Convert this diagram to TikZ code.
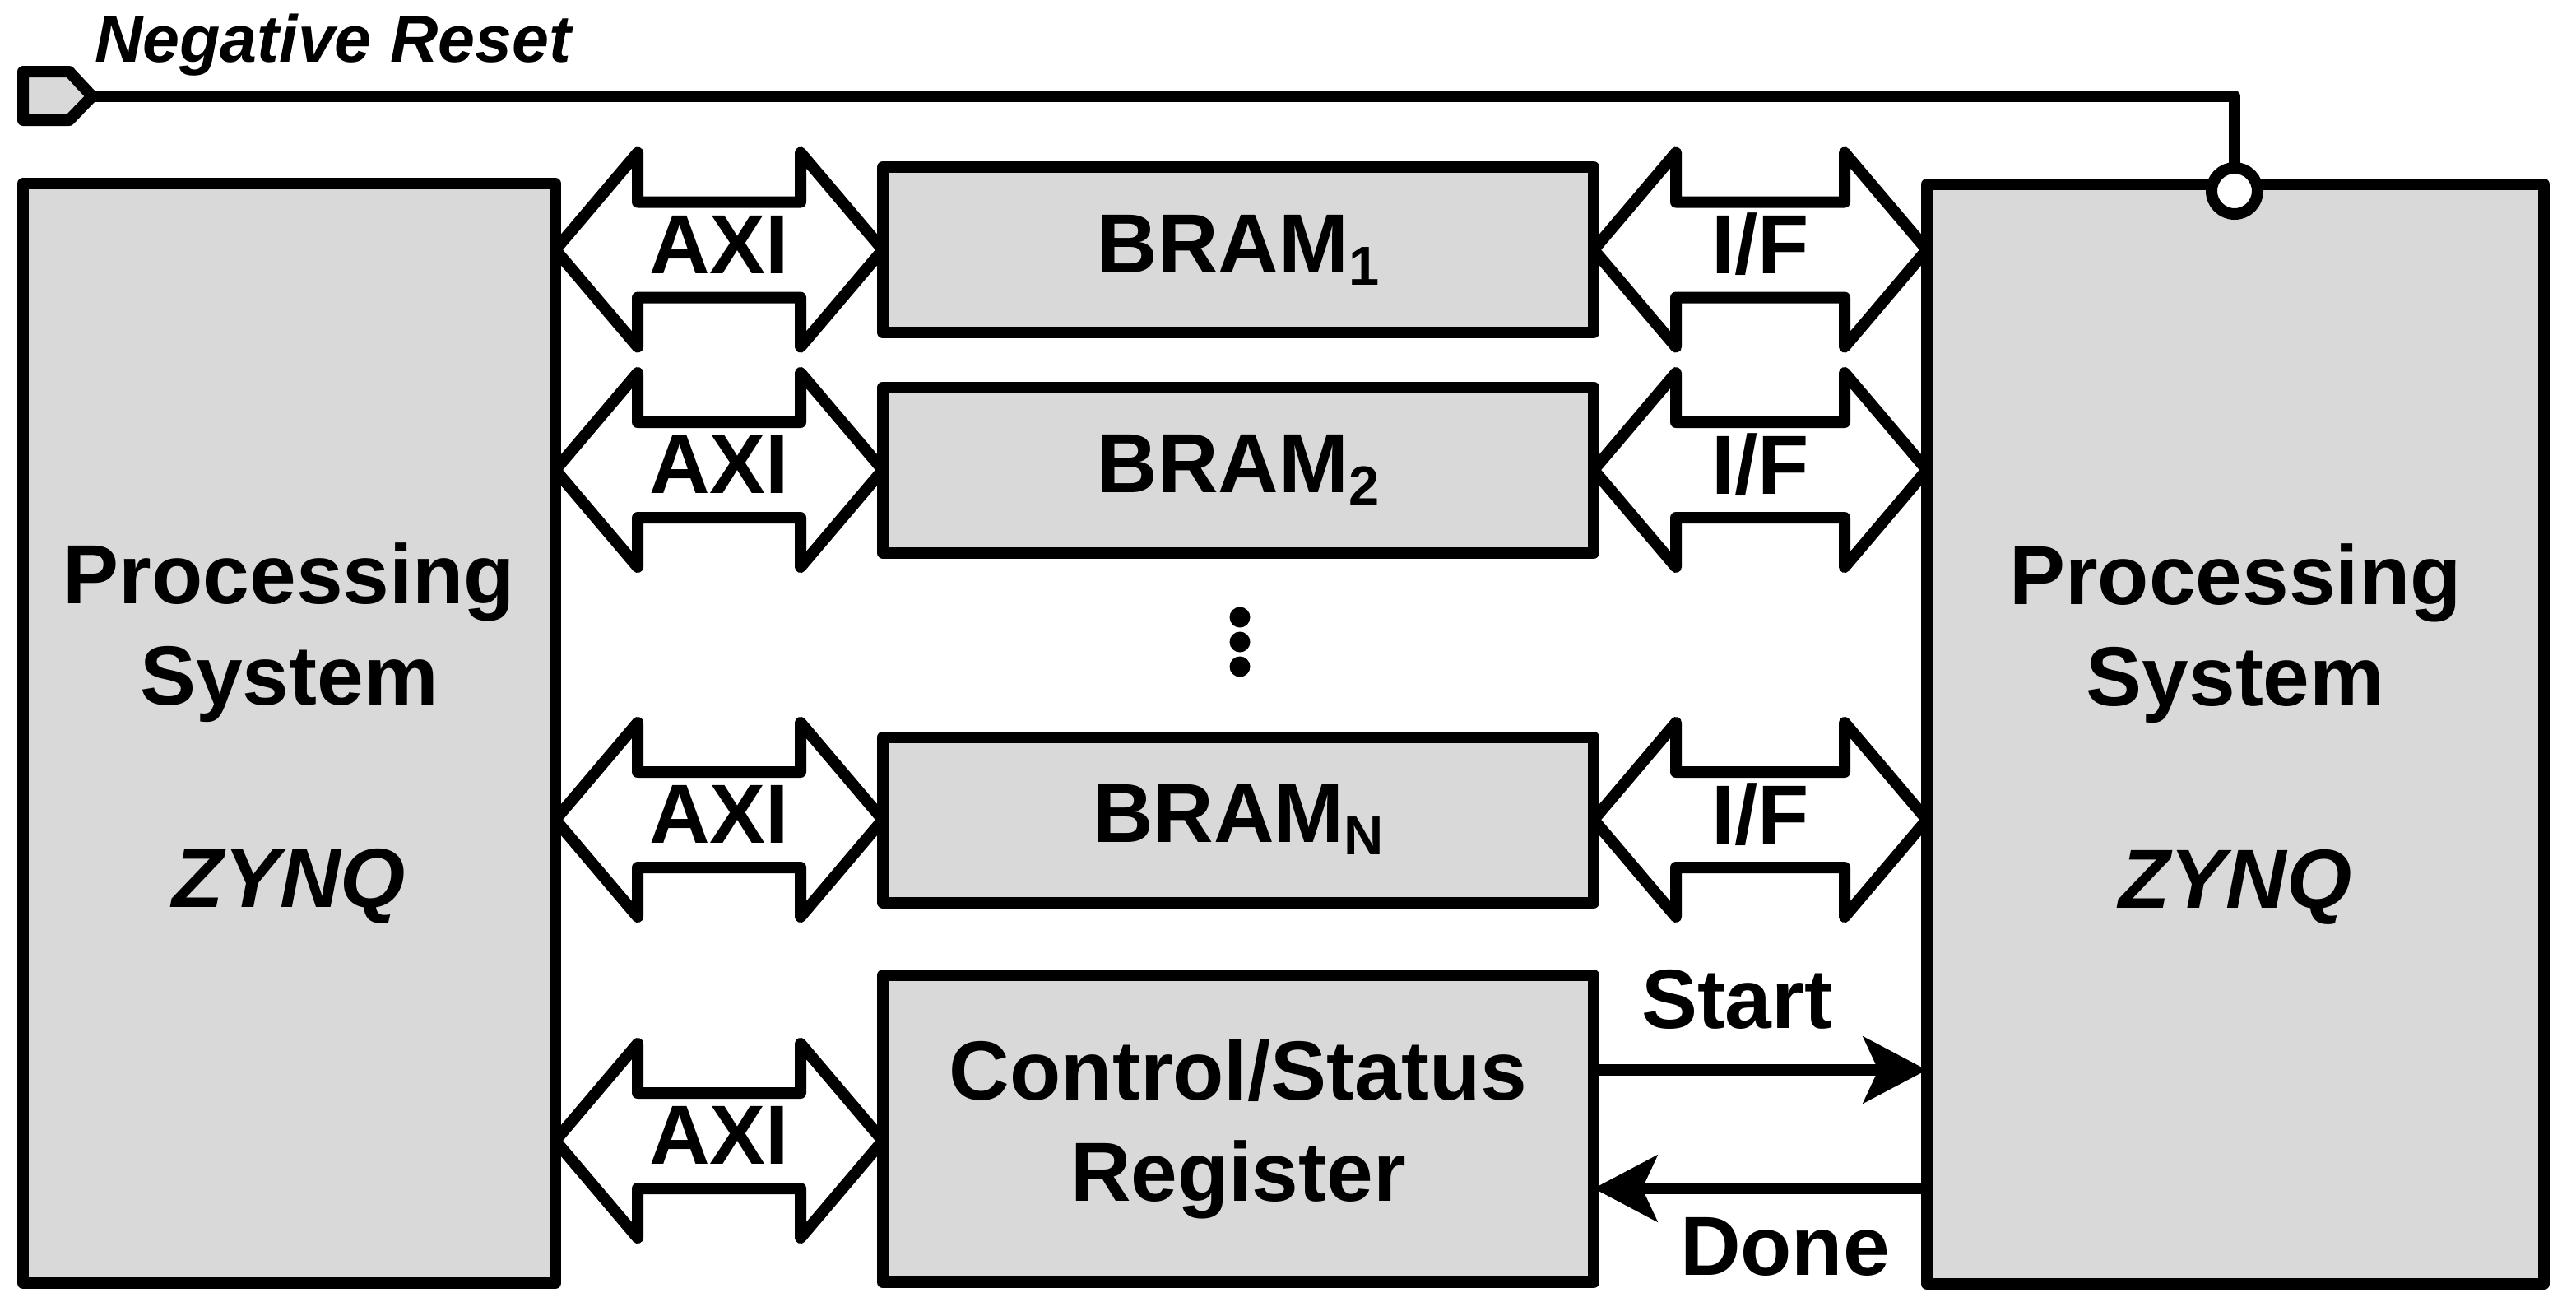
\documentclass[tikz,border=0pt]{standalone}
\usepackage{fontspec}
\setmainfont{Liberation Sans}
\usetikzlibrary{
  arrows.meta,
  calc
}
\colorlet{blockfill}{black!15}
\newcommand\blockfont{\bfseries\fontsize{29}{35}\selectfont}
\newcommand\bramidx[1]{\raisebox{-0.15cm}{\fontsize{19}{19}\selectfont #1}}

\begin{document}
\begin{tikzpicture}[
  y=-1cm,
  line width=0.14cm,
  line join=round,
  block/.style={draw,fill=blockfill,rectangle,inner sep=0pt,outer sep=0pt,
    align=center,font=\blockfont},
  bus/.style={draw,fill=white,to path={
      let \p1=(\tikztostart), \p2=(\tikztotarget) in
      (\p1) -- ++(1cm,1.18cm) -- ++(0cm,-0.6cm) -- (\x2-1cm,\y1+0.58cm)
      -- ++(0cm,0.6cm) -- (\p2) -- ++(-1cm,-1.18cm) -- ++(0cm,0.6cm)
      -- (\x1+1cm,\y1-0.58cm) -- ++(0cm,-0.6cm) -- cycle}},
  buslabel/.style={font=\blockfont,inner sep=0pt,yshift=0.065cm},
  sig/.style={-{Stealth[length=0.77cm,width=0.8cm,inset=0.18cm]}},
  siglabel/.style={font=\blockfont,inner sep=0pt},
]
\useasboundingbox (0,0) rectangle (31.31,15.98);

% processing systems
\node[block,minimum width=6.47cm,minimum height=13.36cm] (psL) at (3.515,8.91)
  {Processing\\System\\[35pt]\textit{ZYNQ}};
\node[block,minimum width=7.50cm,minimum height=13.36cm] (psR) at (27.17,8.92)
  {Processing\\System\\[35pt]\textit{ZYNQ}};

% memories and registers
\node[block,minimum width=8.64cm,minimum height=2.01cm] (bram1) at (15.05,3.035) {BRAM\bramidx{1}};
\node[block,minimum width=8.64cm,minimum height=2.01cm] (bram2) at (15.05,5.71) {BRAM\bramidx{2}};
\node[block,minimum width=8.64cm,minimum height=2.01cm] (bramN) at (15.05,9.96) {BRAM\bramidx{N}};
\node[block,minimum width=8.64cm,minimum height=3.73cm] (csr) at (15.05,13.715)
  {Control/Status\\Register};

\foreach \i/\y in {1/7.50,2/7.80,3/8.10}
  \node[circle,fill=black,minimum size=0.25cm,inner sep=0pt] (dot\i) at (15.07,\y) {};

% buses
\foreach \bram in {bram1,bram2,bramN} {
  \draw[bus] (psL.east |- \bram.west) to (\bram.west);
  \node[buslabel] (axi-\bram) at ($(psL.east |- \bram.west)!0.5!(\bram.west)$) {AXI};
  \draw[bus] (\bram.east) to (psR.west |- \bram.east);
  \node[buslabel] (if-\bram) at ($(\bram.east)!0.5!(psR.west |- \bram.east)$) {I/F};
}
\coordinate (csrin) at ([yshift=-0.145cm]csr.west);
\draw[bus] (psL.east |- csrin) to (csrin);
\node[buslabel] (axi-csr) at ($(psL.east |- csrin)!0.5!(csrin)$) {AXI};

% handshake
\coordinate (startout) at ([yshift=0.715cm]csr.east);
\coordinate (donein) at ([yshift=-0.725cm]csr.east);
\draw[sig] (startout) -- (startout -| psR.west)
  node[siglabel,pos=0.43,above=0.43cm] (startlbl) {Start};
\draw[sig] (donein -| psR.west) -- (donein)
  node[siglabel,pos=0.426,below=0.28cm] (donelbl) {Done};

% reset
\draw[fill=blockfill] (0.28,0.87) -- (0.84,0.87) -- (1.12,1.17) -- (0.84,1.46)
  -- (0.28,1.46) -- cycle;
\coordinate (rstpin) at (1.12,1.17);
\node[draw,fill=white,circle,minimum size=0.56cm,inner sep=0pt,outer sep=0pt] (rstbub) at (27.16,2.32) {};
\draw (rstpin) -| (rstbub.north);
\node[anchor=base west,inner sep=0pt,font=\bfseries\itshape\fontsize{23}{27}\selectfont]
  (rstlabel) at (1.08,0.75) {Negative Reset};
\end{tikzpicture}
\end{document}
